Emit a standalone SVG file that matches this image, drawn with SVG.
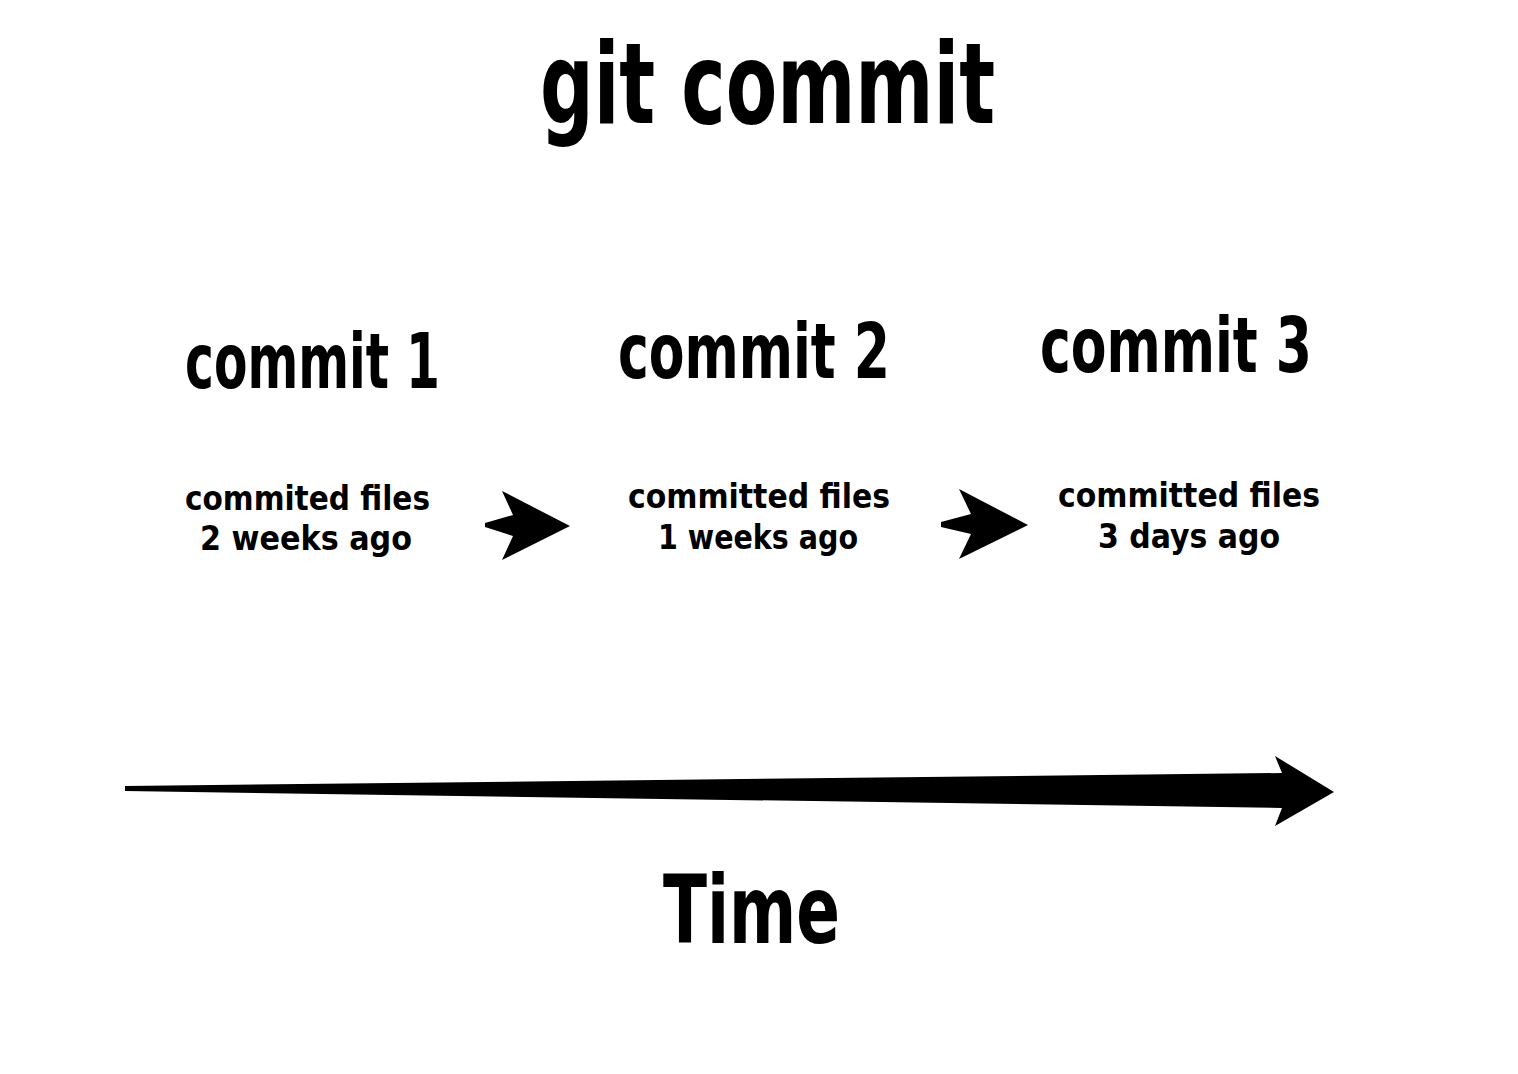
<svg xmlns="http://www.w3.org/2000/svg" width="1518" height="1074" viewBox="0 0 1518 1074">
<style>
  text { font-family: "DejaVu Sans", "Liberation Sans", sans-serif; font-weight: 700; font-stretch: condensed; fill: #000; }
  .title { font-size: 112px; }
  .head { font-size: 76px; }
  .sub { font-size: 34px; }
  .time { font-size: 94px; }
  .arrow { fill: #000; stroke: none; }
</style>
<rect width="1518" height="1074" fill="#fff"/>
<g id="title"><text class="title" x="540" y="123" textLength="455" lengthAdjust="spacingAndGlyphs">git commit</text></g>
<g id="commit1">
  <text class="head" x="185" y="388" textLength="255" lengthAdjust="spacingAndGlyphs">commit 1</text>
  <text class="sub" x="185" y="510" textLength="245" lengthAdjust="spacingAndGlyphs">commited files</text>
  <text class="sub" x="200" y="550" textLength="212" lengthAdjust="spacingAndGlyphs">2 weeks ago</text>
</g>
<g id="commit2">
  <text class="head" x="618" y="378" textLength="272" lengthAdjust="spacingAndGlyphs">commit 2</text>
  <text class="sub" x="628" y="508" textLength="262" lengthAdjust="spacingAndGlyphs">committed files</text>
  <text class="sub" x="658" y="549" textLength="200" lengthAdjust="spacingAndGlyphs">1 weeks ago</text>
</g>
<g id="commit3">
  <text class="head" x="1040" y="372" textLength="272" lengthAdjust="spacingAndGlyphs">commit 3</text>
  <text class="sub" x="1058" y="507" textLength="262" lengthAdjust="spacingAndGlyphs">committed files</text>
  <text class="sub" x="1098" y="548" textLength="182" lengthAdjust="spacingAndGlyphs">3 days ago</text>
</g>
<g id="time"><text class="time" x="663" y="943" textLength="177" lengthAdjust="spacingAndGlyphs">Time</text></g>
<g id="connectors">
  <polygon class="arrow" points="502,491 570,526 502,560 513,536 485,527 485,523 513,515"/>
  <polygon class="arrow" points="959,489 1028,525 959,559 971,534 941,527 941,522 971,514"/>
  <polygon class="arrow" points="125,786 1282,773 1275,756 1334,792 1275,826 1282,808 125,791"/>
</g>
</svg>
